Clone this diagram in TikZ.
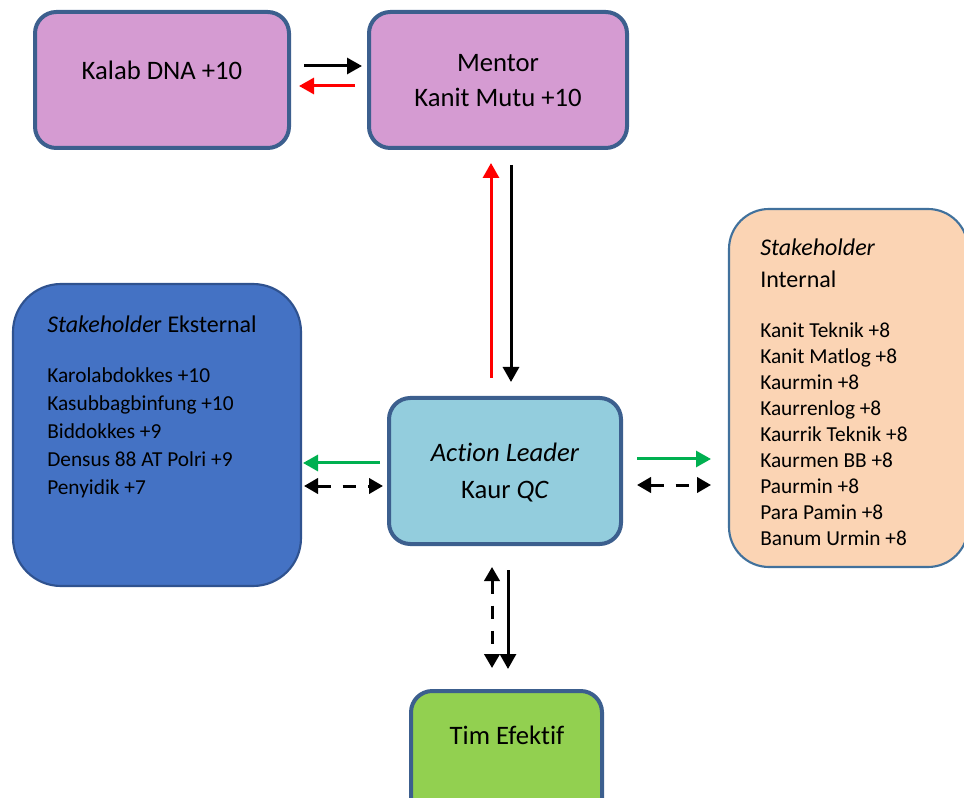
\documentclass[tikz,border=0pt]{standalone}
\usepackage{fontspec}
\setmainfont{Carlito}[Ligatures=NoCommon]
\usetikzlibrary{arrows.meta}
\definecolor{pinkf}{HTML}{D59BD2}
\definecolor{bluef}{HTML}{4472C4}
\definecolor{lbluef}{HTML}{93CDDD}
\definecolor{peachf}{HTML}{FBD4B4}
\definecolor{greenf}{HTML}{92D050}
\definecolor{boxline}{HTML}{3C5F8E}
\definecolor{extline}{HTML}{2F528F}
\definecolor{intline}{HTML}{41719C}
\definecolor{arrgreen}{HTML}{00B050}
\definecolor{arrred}{HTML}{FF0000}
\begin{document}
\begin{tikzpicture}[x=0.75pt,y=-0.75pt,
  thickbox/.style={draw=boxline, line width=3pt, rounded corners=16pt, inner sep=0pt, outer sep=0pt},
  thinbox/.style={line width=1.6pt, inner sep=0pt, outer sep=0pt},
  title/.style={font=\fontsize{20}{26.25}\selectfont, align=center, inner sep=0pt},
  lst/.style={anchor=mid west, inner sep=0pt},
  arr/.style={line width=2.25pt, -{Triangle[length=11.25pt,width=12pt]}},
  darr/.style={line width=2.25pt, {Triangle[length=10.5pt,width=11.5pt]}-{Triangle[length=10.5pt,width=11.5pt]}, dash pattern=on 10pt off 9pt}
]
\useasboundingbox (0,0) rectangle (964,798);

% boxes
\node[thickbox, fill=pinkf, minimum width=190.5pt, minimum height=102pt] (kalab) at (162,80) {};
\node[thickbox, fill=pinkf, minimum width=193.5pt, minimum height=102pt] (mentor) at (498,80) {};
\node[thinbox, draw=extline, fill=bluef, rounded corners=36pt, minimum width=216pt, minimum height=226.5pt] (ext) at (157,435) {};
\node[thickbox, fill=lbluef, minimum width=174pt, minimum height=109.5pt] (al) at (505,471) {};
\node[thinbox, draw=intline, fill=peachf, rounded corners=30pt, minimum width=179.25pt, minimum height=268.5pt] (int) at (848.5,388) {};
\node[thickbox, fill=greenf, minimum width=143.25pt, minimum height=104.25pt] (tim) at (506.5,760.5) {};

% titles
\node[title] (kalabt) at (162,70) {Kalab DNA +10};
\node[title] (mentort) at (498,81) {Mentor\\Kanit Mutu +10};
\node[title, font=\fontsize{20}{27.75}\selectfont] (alt) at (505,473) {\textit{Action Leader}\\Kaur \textit{QC}};
\node[title] (timt) at (507,735) {Tim Efektif};

% external stakeholder
\node[lst, font=\fontsize{18}{21}\selectfont] (exth) at (47,329) {\textit{Stakeholde}r Eksternal};
\begin{scope}[font=\fontsize{16}{19.5}\selectfont]
\node[lst] (ext1) at (47,379) {Karolabdokkes +10};
\node[lst] (ext2) at (47,407) {Kasubbagbinfung +10};
\node[lst] (ext3) at (47,435) {Biddokkes +9};
\node[lst] (ext4) at (47,463) {Densus 88 AT Polri +9};
\node[lst] (ext5) at (47,491) {Penyidik +7};
\end{scope}

% internal stakeholder
\begin{scope}[font=\fontsize{18}{21}\selectfont]
\node[lst] (inth1) at (760,252) {\textit{Stakeholder}};
\node[lst] (inth2) at (760,284) {Internal};
\end{scope}
\begin{scope}[font=\fontsize{16}{19.5}\selectfont]
\node[lst] (int1) at (760,334) {Kanit Teknik +8};
\node[lst] (int2) at (760,360) {Kanit Matlog +8};
\node[lst] (int3) at (760,386) {Kaurmin +8};
\node[lst] (int4) at (760,412) {Kaurrenlog +8};
\node[lst] (int5) at (760,438) {Kaurrik Teknik +8};
\node[lst] (int6) at (760,464) {Kaurmen BB +8};
\node[lst] (int7) at (760,490) {Paurmin +8};
\node[lst] (int8) at (760,516) {Para Pamin +8};
\node[lst] (int9) at (760,542) {Banum Urmin +8};
\end{scope}

% arrow end points
\coordinate (a1s) at (304,66);  \coordinate (a1e) at (362,66);
\coordinate (a2s) at (355,86);  \coordinate (a2e) at (299,86);
\coordinate (a3s) at (491,378); \coordinate (a3e) at (491,163);
\coordinate (a4s) at (511,165); \coordinate (a4e) at (511,382);
\coordinate (a5s) at (380,463); \coordinate (a5e) at (303,463);
\coordinate (a6s) at (304,486); \coordinate (a6e) at (383,486);
\coordinate (a7s) at (637,459); \coordinate (a7e) at (711,459);
\coordinate (a8s) at (637,485); \coordinate (a8e) at (711,485);
\coordinate (a9s) at (492,567); \coordinate (a9e) at (492,668);
\coordinate (a10s) at (508,570); \coordinate (a10e) at (508,669);

\draw[arr, black] (a1s) -- (a1e);
\draw[arr, arrred] (a2s) -- (a2e);
\draw[arr, arrred] (a3s) -- (a3e);
\draw[arr, black] (a4s) -- (a4e);
\draw[arr, arrgreen] (a5s) -- (a5e);
\draw[darr, black] (a6s) -- (a6e);
\draw[arr, arrgreen] (a7s) -- (a7e);
\draw[darr, black] (a8s) -- (a8e);
\draw[darr, black] (a9s) -- (a9e);
\draw[arr, black] (a10s) -- (a10e);
\end{tikzpicture}
\end{document}
